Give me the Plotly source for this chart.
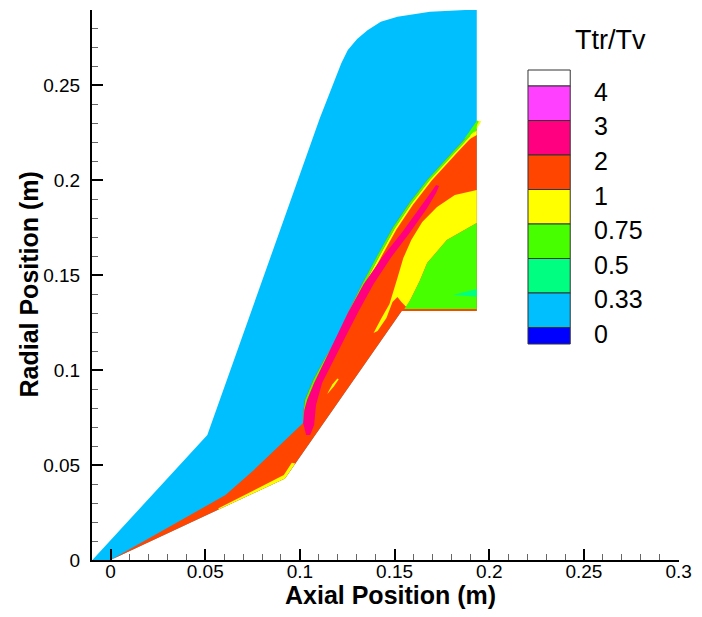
import plotly.graph_objects as go

# ---------------- data (metres) ----------------
body_x = [0.0, 0.0921, 0.1538, 0.1934]
body_y = [0.0, 0.0429, 0.1310, 0.1310]

outer_x = [-0.0096, 0.0511, 0.1105, 0.1190, 0.1218, 0.1253, 0.1302, 0.1357, 0.1427, 0.1515, 0.1687, 0.1934]
outer_y = [0.0, 0.0658, 0.2325, 0.2550, 0.2614, 0.2684, 0.2742, 0.2789, 0.2833, 0.2859, 0.2886, 0.2898]

shock_x = [0.0, 0.0607, 0.0757, 0.0886, 0.1017, 0.1019, 0.1026, 0.1070, 0.1127, 0.1190,
           0.1253, 0.1331, 0.1410, 0.1489, 0.1578, 0.1672, 0.1802, 0.1881, 0.1934]
shock_y = [0.0, 0.0342, 0.0474, 0.0595, 0.0721, 0.0789, 0.0842, 0.0947, 0.1053, 0.1158,
           0.1300, 0.1458, 0.1605, 0.1747, 0.1879, 0.2000, 0.2142, 0.2226, 0.2311]

pink_x = [0.1033, 0.1017, 0.1023, 0.1038, 0.1075, 0.1127, 0.1185, 0.1253, 0.1337, 0.1436,
          0.1541, 0.1635, 0.1693, 0.1719, 0.1735, 0.1719, 0.1672, 0.1583, 0.1483, 0.1389,
          0.1305, 0.1232, 0.1174, 0.1117, 0.1085, 0.1075, 0.1054]
pink_y = [0.0658, 0.0721, 0.0789, 0.0842, 0.0932, 0.1042, 0.1158, 0.1300, 0.1453, 0.1595,
          0.1726, 0.1853, 0.1937, 0.1974, 0.1968, 0.1932, 0.1853, 0.1726, 0.1595, 0.1453,
          0.1300, 0.1158, 0.1042, 0.0932, 0.0816, 0.0711, 0.0658]

yellow_x = [0.1934, 0.1818, 0.1724, 0.1646, 0.1588, 0.1546, 0.1515, 0.1494, 0.1473, 0.1431,
            0.1389, 0.1410, 0.1457, 0.1489, 0.1515, 0.1536, 0.1562, 0.1583, 0.1635, 0.1672,
            0.1776, 0.1934]
yellow_y = [0.1947, 0.1921, 0.1858, 0.1779, 0.1684, 0.1589, 0.1484, 0.1411, 0.1347, 0.1274,
            0.1195, 0.1205, 0.1274, 0.1358, 0.1384, 0.1358, 0.1332, 0.1368, 0.1474, 0.1563,
            0.1684, 0.1774]

green_x = [0.1934, 0.1776, 0.1672, 0.1635, 0.1583, 0.1562, 0.1551, 0.1934]
green_y = [0.1774, 0.1684, 0.1563, 0.1474, 0.1368, 0.1332, 0.1321, 0.1321]

teal_x = [0.1807, 0.1934, 0.1934]
teal_y = [0.1395, 0.1426, 0.1386]

streak_x = [0.1145, 0.1180, 0.1205, 0.1198, 0.1172, 0.1150]
streak_y = [0.0874, 0.0915, 0.0952, 0.0955, 0.0925, 0.0886]

cone_yellow_x = [0.0570, 0.0921, 0.0975, 0.0957, 0.0915, 0.0700, 0.0570]
cone_yellow_y = [0.0266, 0.0429, 0.0508, 0.0512, 0.0447, 0.0340, 0.0272]

green_tip_x = [0.1866, 0.1934, 0.1934]
green_tip_y = [0.2214, 0.2311, 0.2263]
yellow_tip_x = [0.1870, 0.1934, 0.1934]
yellow_tip_y = [0.2200, 0.2263, 0.2237]

level_labels = ["0", "0.33", "0.5", "0.75", "1", "2", "3", "4"]
band_colors = ["#0000FF", "#00BFFF", "#00FF80", "#48FF00", "#FFFF00",
               "#FF4500", "#FF0080", "#FF40FF", "#FFFFFF"]
C_DBLUE, C_BLUE, C_TEAL, C_GREEN, C_YELLOW, C_ORANGE, C_RED, C_PINK, C_WHITE = band_colors

FONT = "Liberation Sans, Arial, sans-serif"

fig = go.Figure()


def poly(xs, ys, color):
    fig.add_trace(go.Scatter(x=xs, y=ys, mode="lines", fill="toself",
                             fillcolor=color, line=dict(width=0, color=color),
                             hoverinfo="skip", showlegend=False))


# computational domain (free stream)
dom_x = outer_x + [body_x[3]] + body_x[::-1]
dom_y = outer_y + [body_y[3]] + body_y[::-1]
poly(dom_x, dom_y, C_BLUE)

# shock layer
lay_x = shock_x + [body_x[3]] + body_x[::-1]
lay_y = shock_y + [body_y[3]] + body_y[::-1]
poly(lay_x, lay_y, C_ORANGE)

# thin transition bands just behind the shock
fig.add_trace(go.Scatter(x=[v + 0.0019 for v in shock_x[4:]], y=shock_y[4:], mode="lines",
                         line=dict(color=C_YELLOW, width=2), hoverinfo="skip", showlegend=False))
fig.add_trace(go.Scatter(x=[v + 0.0007 for v in shock_x[4:]], y=shock_y[4:], mode="lines",
                         line=dict(color=C_GREEN, width=2), hoverinfo="skip", showlegend=False))
poly(yellow_tip_x, yellow_tip_y, C_YELLOW)
poly(green_tip_x, green_tip_y, C_GREEN)

poly(pink_x, pink_y, C_RED)
poly(yellow_x, yellow_y, C_YELLOW)
poly(green_x, green_y, C_GREEN)
poly(teal_x, teal_y, C_TEAL)
poly(streak_x, streak_y, C_YELLOW)
poly(cone_yellow_x, cone_yellow_y, C_YELLOW)

# ---------------- layout ----------------
W, H = 702, 617
ML, MR, MT, MB = 92, 18, 10, 57
PW, PH = W - ML - MR, H - MT - MB


def px(xp):
    return (xp - ML) / PW


def py(yp):
    return (H - MB - yp) / PH


axis_common = dict(
    ticks="inside", ticklen=11, tickwidth=2, tickcolor="black",
    showline=True, linecolor="black", linewidth=2,
    showgrid=False, zeroline=False, tick0=0, dtick=0.05,
    tickfont=dict(family=FONT, size=19, color="black"),
    minor=dict(ticks="inside", ticklen=6, tickwidth=1, tickcolor="#666666",
               tick0=0, dtick=0.01, showgrid=False),
)

fig.update_layout(
    width=W, height=H, autosize=False,
    margin=dict(l=ML, r=MR, t=MT, b=MB, pad=0),
    paper_bgcolor="white", plot_bgcolor="white",
    font=dict(family=FONT, color="black"),
    xaxis=dict(range=[-0.0098, 0.3002], ticklabelstandoff=-7, **axis_common),
    yaxis=dict(range=[0, 0.2895], ticklabelstandoff=6, **axis_common),
    showlegend=False,
)

annotations = [
    dict(text="<b>Axial Position (m)</b>", x=px(393), y=py(595), xref="paper", yref="paper",
         showarrow=False, xanchor="center", yanchor="middle",
         font=dict(family=FONT, size=25, color="black")),
    dict(text="<b>Radial Position (m)</b>", x=px(28), y=py(285), xref="paper", yref="paper",
         showarrow=False, xanchor="center", yanchor="middle", textangle=-90,
         font=dict(family=FONT, size=25, color="black")),
    dict(text="Ttr/Tv", x=px(615), y=py(40), xref="paper", yref="paper",
         showarrow=False, xanchor="center", yanchor="middle",
         font=dict(family=FONT, size=27, color="black")),
]

# legend (contour levels)
bar_l, bar_r = 531.7, 574.3
bar_top, band_h = 70.0, 34.5
edges = [bar_top, bar_top + 16]
for k in range(7):
    edges.append(edges[-1] + band_h)
edges.append(edges[-1] + 16.5)
# edges go from top to bottom; colours listed bottom to top
shapes = []
nb = len(band_colors)
for i in range(nb):
    top = edges[i]
    bot = edges[i + 1]
    col = band_colors[nb - 1 - i]
    shapes.append(dict(type="rect", xref="paper", yref="paper",
                       x0=px(bar_l), x1=px(bar_r), y0=py(bot), y1=py(top),
                       fillcolor=col, line=dict(color="#333333", width=1)))
for j, lab in enumerate(level_labels):
    boundary = edges[nb - 1 - j]
    annotations.append(dict(text=lab, x=px(596), y=py(boundary + 6), xref="paper", yref="paper",
                            showarrow=False, xanchor="left", yanchor="middle",
                            font=dict(family=FONT, size=25, color="black")))

fig.update_layout(annotations=annotations, shapes=shapes)

fig.write_html("out.html")
